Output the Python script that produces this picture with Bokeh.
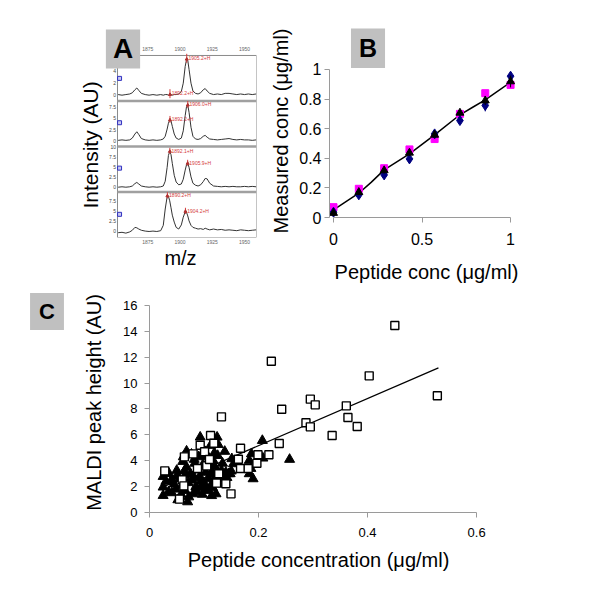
from bokeh.plotting import figure
from bokeh.models import Range1d, FixedTicker, Label, Title
from bokeh.layouts import column, row
from bokeh.embed import file_html
from bokeh.resources import INLINE
from bokeh.core.properties import value

FONT = "Liberation Sans"

# ---------------- Panel A : four MALDI spectra (top to bottom) ----------------
mz = [1852, 1855, 1858, 1861, 1863, 1865, 1866.5, 1868, 1870, 1873,
      1876, 1879, 1882, 1885, 1887, 1888.5, 1890, 1891, 1892, 1893,
      1894, 1895.5, 1897, 1899, 1901, 1902.5, 1904, 1905, 1906, 1907,
      1908.5, 1910, 1912, 1914, 1916, 1918, 1919.5, 1921, 1923, 1926,
      1929, 1932, 1935, 1938, 1941, 1944, 1947, 1950, 1953, 1956, 1959]
spec_1 = [0.1, 0.0, 0.1, 0.2, 0.4, 0.9, 1.2, 0.8, 0.3, 0.1,
          0.0, 0.1, 0.0, 0.1, 0.0, 0.1, 0.1, 0.0, 0.1, 0.1,
          0.0, 0.1, 0.1, 0.2, 0.6, 2.0, 4.8, 5.9, 5.8, 4.3,
          2.0, 0.7, 0.3, 0.2, 0.4, 0.9, 1.1, 0.7, 0.3, 0.1,
          0.2, 0.1, 0.3, 0.3, 0.2, 0.1, 0.2, 0.1, 0.2, 0.1, 0.2]
spec_2 = [0.1, 0.2, 0.1, 0.2, 0.6, 1.5, 2.0, 1.4, 0.5, 0.2,
          0.1, 0.2, 0.1, 0.2, 0.4, 1.0, 2.6, 3.9, 4.6, 4.4,
          3.2, 1.5, 0.6, 0.3, 0.6, 2.2, 5.6, 7.5, 7.9, 6.3,
          3.0, 1.0, 0.4, 0.3, 0.5, 1.0, 1.2, 0.8, 0.4, 0.3,
          0.2, 0.3, 0.4, 0.5, 0.3, 0.2, 0.3, 0.2, 0.2, 0.1, 0.2]
spec_3 = [0.0, 0.1, 0.0, 0.1, 0.3, 0.9, 1.2, 0.8, 0.3, 0.1,
          0.0, 0.1, 0.0, 0.1, 0.3, 1.5, 5.0, 8.0, 9.0, 8.2,
          6.0, 3.0, 1.3, 0.6, 0.8, 2.0, 4.3, 5.6, 6.0, 5.0,
          2.6, 1.0, 0.5, 0.3, 0.6, 1.4, 2.2, 2.1, 1.0, 0.3,
          0.2, 0.1, 0.2, 0.1, 0.2, 0.1, 0.1, 0.2, 0.1, 0.2, 0.1]
spec_4 = [-0.3, -0.2, -0.4, -0.1, 0.3, 1.0, 0.9, 0.6, 0.3, 0.1,
          0.0, 0.1, 0.0, 0.2, 1.5, 5.5, 8.5, 8.6, 7.5, 5.8,
          4.0, 2.3, 1.0, 0.6, 1.6, 3.5, 4.8, 4.7, 3.8, 2.6,
          1.5, 1.0, 0.8, 0.6, 0.7, 0.5, 0.8, 0.6, 0.4, 0.6,
          0.4, 0.5, 0.3, 0.4, 0.3, 0.2, 0.4, 0.3, 0.2, 0.3, 0.4]
a_ticks = [[0, 2, 4], [0, 2.5, 5, 7.5], [0, 2.5, 5, 7.5, 10], [0, 2.5, 5, 7.5]]
a_icon_y = [2.8, 4.0, 4.8, 4.2]
mz_ticks = [1875, 1900, 1925, 1950]
peak_panel = [0, 0, 1, 1, 2, 2, 3, 3]
peak_mz = [1905.2, 1892.2, 1892.2, 1906.0, 1892.1, 1905.9, 1890.2, 1904.2]
peak_h = [6.0, 0.1, 4.6, 7.9, 9.0, 6.0, 8.7, 4.9]
peak_text = ["1905.2+H", "1892.2+H", "1892.2+H", "1906.0+H",
             "1892.1+H", "1905.9+H", "1890.2+H", "1904.2+H"]

# ---------------- Panel B ----------------
b_x = [0, 0.143, 0.286, 0.429, 0.571, 0.714, 0.857, 1.0]
b_pink = [0.07, 0.194, 0.333, 0.46, 0.53, 0.70, 0.84, 0.896]
b_blue = [0.036, 0.153, 0.288, 0.396, 0.565, 0.655, 0.757, 0.955]
b_black = [0.03, 0.171, 0.318, 0.437, 0.558, 0.707, 0.79, 0.919]
b_blue_err = [0.01, 0.01, 0.01, 0.01, 0.01, 0.01, 0.04, 0.01]
b_black_err = [0.01, 0.02, 0.02, 0.02, 0.01, 0.02, 0.03, 0.04]
b_line_x = [0, 0.143, 0.214, 0.286, 0.429, 0.571, 0.714, 0.786, 0.857, 1.0]
b_line_y = [0.052, 0.164, 0.239, 0.322, 0.43, 0.558, 0.694, 0.745, 0.795, 0.914]
b_yticks = [0, 0.2, 0.4, 0.6, 0.8, 1.0]
b_xticks = [0, 0.5, 1.0]

# ---------------- Panel C ----------------
c_sq_x = [0.028, 0.060, 0.063, 0.055, 0.064, 0.080, 0.093, 0.112, 0.118, 0.101,
          0.132, 0.123, 0.140, 0.1495, 0.127, 0.105, 0.088, 0.110,
          0.163, 0.167, 0.167, 0.181, 0.197, 0.199, 0.219, 0.238, 0.2235, 0.2425,
          0.287, 0.295, 0.295, 0.304, 0.335, 0.361, 0.364, 0.381, 0.403, 0.450, 0.528]
c_sq_y = [3.22, 2.52, 2.06, 1.03, 4.30, 4.53, 5.20, 5.95, 5.35, 4.70,
          7.39, 2.27, 2.22, 1.44, 2.99, 3.60, 3.40, 4.10,
          4.12, 4.97, 3.40, 3.40, 3.81, 4.46, 4.46, 5.33, 11.69, 7.98,
          6.93, 6.62, 8.76, 8.32, 5.95, 8.24, 7.34, 6.65, 10.56, 14.45, 9.02]
c_tri_x = [0.025, 0.025, 0.025, 0.036, 0.041, 0.050, 0.052, 0.070, 0.061, 0.068,
           0.082, 0.093, 0.096, 0.105, 0.112, 0.124, 0.126, 0.138, 0.119, 0.151,
           0.154, 0.145, 0.132, 0.122, 0.080, 0.065, 0.045, 0.055, 0.060, 0.068,
           0.075, 0.078, 0.085, 0.088, 0.092, 0.095, 0.098, 0.100, 0.103, 0.106,
           0.108, 0.110, 0.113, 0.115, 0.117, 0.120, 0.123, 0.127, 0.130, 0.134,
           0.140, 0.072, 0.058, 0.048, 0.035, 0.030, 0.064, 0.071, 0.083, 0.087,
           0.090, 0.097, 0.102, 0.109, 0.116, 0.125, 0.062, 0.077, 0.050, 0.040,
           0.094, 0.111, 0.118, 0.131, 0.136, 0.142, 0.150, 0.183, 0.183, 0.187,
           0.208, 0.207, 0.257, 0.148, 0.186, 0.190, 0.082, 0.101, 0.114, 0.066]
c_tri_y = [2.78, 1.96, 1.31, 3.00, 1.52, 3.25, 0.98, 0.82, 3.94, 4.74,
           4.10, 5.82, 4.48, 4.30, 5.18, 5.82, 5.25, 4.72, 4.60, 4.15,
           3.76, 2.99, 3.25, 1.44, 1.44, 1.70, 2.20, 2.60, 2.10, 3.50,
           3.00, 2.50, 2.00, 3.30, 2.80, 1.90, 3.70, 2.30, 3.10, 1.70,
           2.60, 3.50, 2.10, 3.00, 4.00, 2.60, 3.30, 2.20, 2.90, 3.80,
           3.10, 1.20, 1.40, 1.80, 1.60, 2.40, 3.20, 2.30, 3.80, 1.60,
           4.30, 1.40, 4.70, 4.00, 1.90, 4.40, 4.30, 4.50, 2.80, 2.50,
           2.40, 2.90, 3.60, 2.60, 2.90, 2.70, 3.20, 2.99, 4.02, 4.53,
           4.20, 5.56, 4.10, 2.99, 3.40, 2.60, 2.70, 2.00, 1.30, 2.90]
c_fit_x = [0.025, 0.53]
c_fit_y = [1.97, 11.18]
c_xticks = [0, 0.2, 0.4, 0.6]
c_yticks = [0, 2, 4, 6, 8, 10, 12, 14, 16]

AX = "#9a9a9a"


def style_axis(ax, size, tick_out=5, standoff=5, lab_standoff=6):
    ax.axis_line_color = AX
    ax.major_tick_line_color = AX
    ax.major_tick_out = tick_out
    ax.major_tick_in = 0
    ax.minor_tick_line_color = None
    ax.major_label_text_font = FONT
    ax.major_label_text_font_size = size
    ax.major_label_text_color = "black"
    ax.major_label_standoff = standoff
    ax.axis_label_text_font = FONT
    ax.axis_label_text_font_size = "20px"
    ax.axis_label_text_font_style = "normal"
    ax.axis_label_text_color = "black"
    ax.axis_label_standoff = lab_standoff


def panel_label(p, x, y, txt, size, pad):
    p.add_layout(Label(x=x, y=y, text=txt, text_font=FONT, text_font_size=size,
                       text_font_style="bold", text_align="center",
                       text_baseline="middle", text_color="black",
                       background_fill_color="#c0c0c0", padding=pad))


def side_title(p, txt, size, align, offset, standoff):
    p.add_layout(Title(text=txt, align=align, offset=offset, vertical_align="bottom",
                       standoff=standoff, text_font=FONT, text_font_size=size,
                       text_font_style="normal", text_color="black"), "left")


# ================= Figure A =================
A_XLO, A_XHI = 1851.5, 1959.3          # spectrum window
pA = figure(x_range=Range1d(1841.42, A_XHI), y_range=Range1d(0, 4.593),
            frame_width=152, frame_height=209,
            min_border_left=104, min_border_right=6,
            min_border_top=27, min_border_bottom=49,
            output_backend="svg", toolbar_location=None)
pA.grid.visible = False
pA.outline_line_color = None
pA.border_fill_color = "white"
pA.yaxis.visible = False

pA.quad(left=[A_XLO], right=[A_XHI], bottom=[0], top=[4], fill_color=None,
        line_color="#8a8a8a", line_width=1)
pA.segment(x0=[A_XLO] * 3, y0=[1, 2, 3], x1=[A_XHI] * 3, y1=[1, 2, 3],
           line_color="#a0a0a0", line_width=2.5)

spectra = [spec_1, spec_2, spec_3, spec_4]
a_lims = [(-0.97, 6.62), (-1.26, 8.81), (-1.21, 10.25), (-1.47, 9.66)]
top_units = 4.593
ranges = {}
for i, (lo, hi) in enumerate(a_lims):
    k = 3 - i
    span = hi - lo
    ranges["p%d" % i] = Range1d(lo - k * span, hi + (top_units - k - 1) * span)
pA.extra_y_ranges = ranges

for i, spec in enumerate(spectra):
    name = "p%d" % i
    pA.line(mz, spec, y_range_name=name, line_color="#333333", line_width=1)
    pA.text(x=[A_XLO - 1.2] * len(a_ticks[i]), y=a_ticks[i],
            text=["%g" % t for t in a_ticks[i]], y_range_name=name,
            text_font=value(FONT), text_font_size="5px", text_color="#444444",
            text_align="right", text_baseline="middle")
    pA.scatter([A_XLO + 1.6], [a_icon_y[i]], y_range_name=name, marker="square",
               size=4, fill_color="#c8c8f0", line_color="#3030c0", line_width=1)
    px = [m for m, pp in zip(peak_mz, peak_panel) if pp == i]
    ph = [h for h, pp in zip(peak_h, peak_panel) if pp == i]
    pt = [t for t, pp in zip(peak_text, peak_panel) if pp == i]
    pA.segment(x0=px, y0=[h - 0.6 for h in ph], x1=px, y1=[h + 0.9 for h in ph],
               y_range_name=name, line_color="#d43c3c", line_width=1)
    pA.scatter(px, ph, y_range_name=name, marker="triangle", size=3, color="#b03030")
    pA.text(x=[m + 1.3 for m in px], y=[h + 0.2 for h in ph], text=pt,
            y_range_name=name, text_font=value(FONT), text_font_size="5px",
            text_color="#d43c3c", text_baseline="middle", text_align="left")

# m/z tick labels above the spectrum window
pA.text(x=mz_ticks, y=[4.15] * len(mz_ticks), text=[str(t) for t in mz_ticks],
        text_font=value(FONT), text_font_size="5px", text_color="#666666",
        text_align="center", text_baseline="middle")

xa = pA.xaxis[0]
xa.ticker = FixedTicker(ticks=mz_ticks)
style_axis(xa, "5px", tick_out=0, standoff=2, lab_standoff=0)
xa.axis_line_color = None
xa.major_tick_line_color = None
xa.major_label_text_color = "#666666"
xa.axis_label = "m/z"

side_title(pA, "Intensity (AU)", "21px", "left", 29, 5)
panel_label(pA, 1855.77, 4.143, "A", "28px", (7, 4))

# ================= Figure B =================
pB = figure(x_range=Range1d(-0.0226, 1.073), y_range=Range1d(0, 1.277),
            frame_width=194, frame_height=189,
            min_border_left=67, min_border_right=67,
            min_border_top=28, min_border_bottom=68,
            output_backend="svg", toolbar_location=None)
pB.grid.visible = False
pB.outline_line_color = None
pB.border_fill_color = "white"

pB.line(b_line_x, b_line_y, line_color="black", line_width=1.5)
pB.scatter(b_x, b_pink, marker="square", size=7, color="#ff00ff")
pB.segment(x0=b_x, y0=[v - e for v, e in zip(b_blue, b_blue_err)], x1=b_x,
           y1=[v + e for v, e in zip(b_blue, b_blue_err)], line_color="#000080")
pB.scatter(b_x, b_blue, marker="diamond", size=10, color="#000080")
pB.segment(x0=b_x, y0=[v - e for v, e in zip(b_black, b_black_err)], x1=b_x,
           y1=[v + e for v, e in zip(b_black, b_black_err)], line_color="black")
pB.scatter(b_x, b_black, marker="triangle", size=8, color="black")

xb = pB.xaxis[0]
xb.ticker = FixedTicker(ticks=b_xticks)
xb.bounds = (0, 1)
xb.major_label_overrides = {0: "0", 1: "1"}
style_axis(xb, "16px", tick_out=5, standoff=10, lab_standoff=13)
xb.axis_label = "Peptide conc (μg/ml)"

yb = pB.yaxis[0]
yb.ticker = FixedTicker(ticks=b_yticks)
yb.bounds = (0, 1)
yb.major_label_overrides = {0: "0", 1: "1"}
style_axis(yb, "16px", tick_out=5, standoff=3)

side_title(pB, "Measured conc (μg/ml)", "20px", "right", 0, 9)
panel_label(pB, 0.1949, 1.145, "B", "25px", (8, 6))

# ================= Figure C =================
pCL = figure(x_range=Range1d(0, 80), y_range=Range1d(0, 303),
             frame_width=80, frame_height=303, min_border=0,
             x_axis_type=None, y_axis_type=None,
             output_backend="svg", toolbar_location=None)
pCL.grid.visible = False
pCL.outline_line_color = None
pCL.title.visible = False
panel_label(pCL, 46.5, 284.0, "C", "22px", (9, 6))

pC = figure(x_range=Range1d(0, 0.62), y_range=Range1d(0, 17),
            frame_width=338, frame_height=220,
            min_border_left=69, min_border_right=103,
            min_border_top=7, min_border_bottom=76,
            output_backend="svg", toolbar_location=None)
pC.grid.visible = False
pC.outline_line_color = None
pC.border_fill_color = "white"

pC.line(c_fit_x, c_fit_y, line_color="black", line_width=1.3)
pC.scatter(c_tri_x, c_tri_y, marker="triangle", size=10, color="black")
pC.scatter(c_sq_x, c_sq_y, marker="square", size=8, fill_color="white",
           line_color="black", line_width=1.4)

xc = pC.xaxis[0]
xc.ticker = FixedTicker(ticks=c_xticks)
xc.bounds = (0, 0.6)
xc.major_label_overrides = {0: "0"}
style_axis(xc, "13px", tick_out=5, standoff=10, lab_standoff=9)
xc.axis_label = "Peptide concentration (μg/ml)"

yc = pC.yaxis[0]
yc.ticker = FixedTicker(ticks=c_yticks)
yc.bounds = (0, 16)
style_axis(yc, "13px", tick_out=5, standoff=7, lab_standoff=15)
yc.axis_label = "MALDI peak height (AU)"

layout = column(row(pA, pB), row(pCL, pC))
open("out.html", "w").write(file_html(layout, INLINE))
